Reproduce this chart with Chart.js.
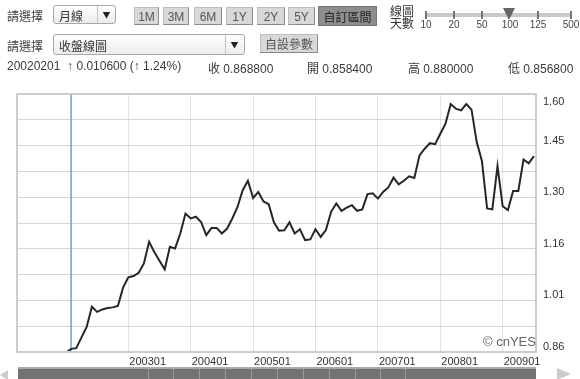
<!DOCTYPE html>
<html>
<head>
<meta charset="utf-8">
<script src="https://cdn.jsdelivr.net/npm/chart.js@4/dist/chart.umd.min.js"></script>
<style>
  body { margin: 0; width: 580px; height: 379px; overflow: hidden; background: #fff;
         font-family: "Liberation Sans", Arial, "Noto Sans CJK TC", sans-serif; color: #333; }
  #wrap { position: relative; width: 580px; height: 379px; }
  #chart { position: absolute; left: 0; top: 0; }
  .abs { position: absolute; white-space: nowrap; }
  .lbl { font: 12px "Noto Sans CJK TC", sans-serif; color: #444; }
  .sel { border: 1px solid #a8a8a8; border-radius: 3px; height: 19px;
         background: linear-gradient(#fff, #ececec); font: 12px "Noto Sans CJK TC", sans-serif;
         line-height: 19px; padding-left: 5px; box-sizing: border-box; }
  .sel .arr { position: absolute; top: 0; width: 17px; height: 17px; border-left: 1px solid #c4c4c4;
              font-size: 8px; text-align: center; line-height: 18px; color: #222; }
  .btn { height: 18px; background: #d8d8d8; border: 1px solid #bdbdbd; border-right-color: #8a8a8a;
         border-bottom-color: #8a8a8a; font: 12px "Liberation Sans", "Noto Sans CJK TC", sans-serif;
         color: #555; text-align: center; line-height: 18px; box-sizing: border-box; }
  .info { font: 12px "Liberation Sans", "Noto Sans CJK TC", sans-serif; color: #3a3a3a; top: 59px; }
  .tick { position: absolute; top: 11px; width: 2px; height: 8px; background: #777; }
  .tl { position: absolute; top: 19px; font: 10px "Liberation Sans Narrow", "Liberation Sans", sans-serif;
        color: #444; transform: translateX(-50%); }
</style>
</head>
<body>
<div id="wrap">
  <canvas id="chart" width="580" height="379"></canvas>

  <!-- row 1 -->
  <div class="abs lbl" style="left:7px;top:7px;">請選擇</div>
  <div class="abs sel" style="left:53px;top:5px;width:63px;">月線<div class="arr" style="left:43px;">&#9660;</div></div>
  <div class="abs btn" style="left:134px;top:7px;width:25px;">1M</div>
  <div class="abs btn" style="left:163px;top:7px;width:26px;">3M</div>
  <div class="abs btn" style="left:194px;top:7px;width:28px;">6M</div>
  <div class="abs btn" style="left:226px;top:7px;width:27px;">1Y</div>
  <div class="abs btn" style="left:257px;top:7px;width:28px;">2Y</div>
  <div class="abs btn" style="left:288px;top:7px;width:27px;">5Y</div>
  <div class="abs btn" style="left:318px;top:6px;width:59px;height:20px;background:#8e8e8e;color:#222;border-color:#777;font-family:'Noto Sans CJK TC';line-height:19px;">自訂區間</div>
  <div class="abs lbl" style="left:390px;top:5px;line-height:12px;color:#333;">線圖<br>天數</div>
  <div class="abs" style="left:425px;top:0;width:150px;height:34px;">
    <div style="position:absolute;left:0;top:13px;width:147px;height:4px;background:#c9c9c9;"></div>
    <div class="tick" style="left:0px;"></div>
    <div class="tick" style="left:28px;"></div>
    <div class="tick" style="left:56px;"></div>
    <div class="tick" style="left:112px;"></div>
    <div class="tick" style="left:145px;"></div>
    <div style="position:absolute;left:78px;top:8px;width:0;height:0;border-left:6px solid transparent;border-right:6px solid transparent;border-top:12px solid #666;"></div>
    <div class="tl" style="left:1px;">10</div>
    <div class="tl" style="left:29px;">20</div>
    <div class="tl" style="left:57px;">50</div>
    <div class="tl" style="left:85px;">100</div>
    <div class="tl" style="left:113px;">125</div>
    <div class="tl" style="left:146px;">500</div>
  </div>

  <!-- row 2 -->
  <div class="abs lbl" style="left:7px;top:37px;">請選擇</div>
  <div class="abs sel" style="left:53px;top:34px;width:192px;height:21px;line-height:21px;">收盤線圖<div class="arr" style="left:171px;height:19px;line-height:20px;">&#9660;</div></div>
  <div class="abs btn" style="left:260px;top:34px;width:58px;height:19px;font-family:'Noto Sans CJK TC';">自設參數</div>

  <!-- row 3 -->
  <div class="abs info" style="left:7px;">20020201 &nbsp;↑ 0.010600 (↑ 1.24%)</div>
  <div class="abs info" style="left:208px;">收 0.868800</div>
  <div class="abs info" style="left:307px;">開 0.858400</div>
  <div class="abs info" style="left:408px;">高 0.880000</div>
  <div class="abs info" style="left:508px;">低 0.856800</div>

  <div class="abs" style="left:483px;top:334px;font:13px 'Liberation Sans',Arial,sans-serif;color:#666;">© cnYES</div>

  <!-- scrollbar -->
  <div class="abs" style="left:0;top:370px;width:0;height:0;border-top:5px solid transparent;border-bottom:5px solid transparent;border-right:8px solid #ccc;"></div>
  <div id="scroll" class="abs" style="left:18px;top:367px;width:518px;height:12px;background:#737373;border-top:2px solid #aaa;box-sizing:border-box;"></div>
  <div class="abs" style="left:557px;top:368px;width:0;height:0;border-top:6px solid transparent;border-bottom:6px solid transparent;border-left:14px solid #ccc;"></div>
</div>

<script>
// monthly close, 200201 .. 200907
const closes = [
  0.858, 0.869, 0.871, 0.902, 0.932, 0.990, 0.975, 0.982, 0.986, 0.988, 0.992, 1.045,
  1.074, 1.078, 1.087, 1.114, 1.176, 1.147, 1.122, 1.097, 1.162, 1.157, 1.200, 1.257,
  1.243, 1.248, 1.233, 1.195, 1.216, 1.216, 1.200, 1.214, 1.243, 1.276, 1.324, 1.351,
  1.302, 1.319, 1.292, 1.284, 1.232, 1.208, 1.209, 1.232, 1.200, 1.212, 1.181, 1.183,
  1.212, 1.190, 1.210, 1.262, 1.286, 1.265, 1.274, 1.281, 1.265, 1.269, 1.313, 1.315,
  1.300, 1.319, 1.332, 1.360, 1.341, 1.351, 1.364, 1.359, 1.424, 1.443, 1.459, 1.456,
  1.486, 1.515, 1.571, 1.558, 1.553, 1.571, 1.555, 1.462, 1.408, 1.272, 1.269, 1.393,
  1.278, 1.267, 1.322, 1.322, 1.412, 1.401, 1.422
];

const months = [];
for (let y = 2002; y <= 2009; y++) {
  for (let m = 1; m <= 12; m++) {
    if (months.length < closes.length) months.push(String(y) + String(m).padStart(2, '0'));
  }
}

const xTickLabels = ['200301', '200401', '200501', '200601', '200701', '200801', '200901'];
const yTickLabels = ['0.86', '1.01', '1.16', '1.30', '1.45', '1.60'];
const yMin = 0.86, yMax = 1.60, yGridCount = 10;
const cursorMonth = '200202';

// scrollbar grip lines
const scroll = document.getElementById('scroll');
[130, 155, 181, 207, 233, 259, 285, 311, 337, 362, 387].forEach(x => {
  const d = document.createElement('div');
  d.style.cssText = 'position:absolute;top:0;bottom:0;width:1px;background:#9a9a9a;left:' + x + 'px';
  scroll.appendChild(d);
});

const framePlugin = {
  id: 'frame',
  beforeDatasetsDraw(chart) {
    const { ctx, chartArea: a, scales } = chart;
    const x = scales.x.getPixelForValue(months.indexOf(cursorMonth));
    ctx.save();
    ctx.strokeStyle = '#5aa6e0';
    ctx.lineWidth = 1.5;
    ctx.beginPath();
    ctx.moveTo(x, a.top);
    ctx.lineTo(x, a.bottom);
    ctx.stroke();
    ctx.restore();
  },
  afterDraw(chart) {
    const { ctx, chartArea: a } = chart;
    ctx.save();
    ctx.strokeStyle = '#cdcdcd';
    ctx.lineWidth = 2;
    ctx.strokeRect(a.left, a.top, a.right - a.left, a.bottom - a.top);
    ctx.restore();
  }
};

new Chart(document.getElementById('chart').getContext('2d'), {
  type: 'line',
  data: {
    datasets: [{
      data: closes.map((v, i) => ({ x: i, y: v })),
      borderColor: '#262626',
      borderWidth: 2,
      pointRadius: 0,
      tension: 0
    }]
  },
  options: {
    responsive: false,
    animation: false,
    layout: { padding: { left: 17, top: 94, right: 0, bottom: 0 } },
    plugins: { legend: { display: false }, tooltip: { enabled: false } },
    scales: {
      x: {
        type: 'linear',
        min: -9.4,
        max: 90.4,
        afterBuildTicks: s => { s.ticks = xTickLabels.map(l => ({ value: months.indexOf(l) })); },
        afterFit: s => { s.height = 27; },
        grid: { color: '#e2e2e2', drawTicks: false },
        border: { display: false },
        ticks: {
          align: 'start',
          padding: 3,
          labelOffset: 1,
          maxRotation: 0,
          autoSkip: false,
          color: '#333',
          font: { size: 11, family: 'Liberation Sans' },
          callback: (v, i) => xTickLabels[i]
        }
      },
      y: {
        position: 'right',
        min: yMin,
        max: yMax,
        afterBuildTicks: s => {
          s.ticks = [];
          for (let i = 0; i <= yGridCount; i++) s.ticks.push({ value: yMin + (yMax - yMin) * i / yGridCount });
        },
        afterFit: s => { s.width = 44; },
        grid: { color: '#d6d6d6', drawTicks: false },
        border: { display: false },
        ticks: {
          padding: 7,
          labelOffset: -5,
          autoSkip: false,
          color: '#333',
          font: { size: 11, family: 'Liberation Sans' },
          callback: (v, i) => {
            if (i % 2) return '';
            const l = yTickLabels[i / 2];
            // top label sits inside the frame
            return i === yGridCount ? ['', '', l] : l;
          }
        }
      }
    }
  },
  plugins: [framePlugin]
});
</script>
</body>
</html>
